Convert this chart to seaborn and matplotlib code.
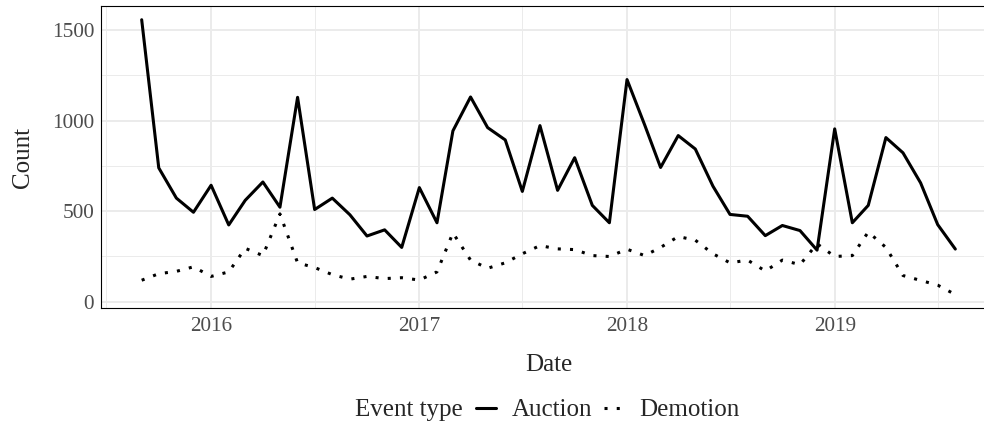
import pandas as pd
import matplotlib.pyplot as plt
import matplotlib.dates as mdates
from matplotlib.ticker import MultipleLocator
from matplotlib.lines import Line2D
import seaborn as sns

# monthly counts, Sep 2015 .. Aug 2019
months = pd.date_range("2015-09-01", "2019-08-01", freq="MS")
auction = [1556, 739, 572, 494,
           643, 424, 560, 661, 522, 1128, 509, 572, 480, 363, 397, 300,
           630, 436, 943, 1130, 961, 893, 609, 972, 615, 795, 532, 436,
           1226, 976, 741, 917, 843, 638, 482, 472, 365, 421, 393, 285,
           954, 436, 532, 906, 822, 656, 426, 291]
demotion = [119, 155, 168, 193,
            140, 165, 295, 255, 485, 215, 189, 150, 125, 140, 128, 133,
            120, 165, 380, 230, 185, 215, 265, 310, 292, 288, 255, 250,
            290, 255, 300, 360, 340, 265, 215, 230, 170, 230, 205, 320,
            250, 255, 385, 300, 145, 118, 92, 40]
event_types = ["Auction", "Demotion"]

df = pd.concat([
    pd.DataFrame({"Date": months, "Count": auction, "Event type": "Auction"}),
    pd.DataFrame({"Date": months, "Count": demotion, "Event type": "Demotion"}),
])

sns.set_style("white")
plt.rcParams["font.family"] = ["Liberation Serif", "DejaVu Serif"]

fig = plt.figure(figsize=(9.84, 4.25), dpi=100)
ax = fig.add_axes([101 / 984, 1 - 308.3 / 425, 895 / 984, 302.3 / 425])

sns.lineplot(data=df, x="Date", y="Count", style="Event type",
             dashes={"Auction": "", "Demotion": (1, 3)},
             color="black", linewidth=2.2, legend=False, ax=ax)

# ggplot-like 5% expansion
pad_x = (months[-1] - months[0]) * 0.05
ax.set_xlim(months[0] - pad_x, months[-1] + pad_x)
ymin, ymax = min(demotion + auction), max(demotion + auction)
pad_y = (ymax - ymin) * 0.05
ax.set_ylim(ymin - pad_y, ymax + pad_y)

ax.xaxis.set_major_locator(mdates.YearLocator())
ax.xaxis.set_major_formatter(mdates.DateFormatter("%Y"))
ax.xaxis.set_minor_locator(mdates.MonthLocator(bymonth=7))
ax.yaxis.set_major_locator(MultipleLocator(500))
ax.yaxis.set_minor_locator(MultipleLocator(250))

ax.set_axisbelow(True)
ax.grid(which="major", color="#EBEBEB", linewidth=1.4)
ax.grid(which="minor", color="#EBEBEB", linewidth=0.7)

for side in ["left", "bottom", "top", "right"]:
    ax.spines[side].set_color("black")
    ax.spines[side].set_linewidth(0.8)

ax.tick_params(which="major", length=3, width=0.8, color="#333333",
               labelsize=15.3, labelcolor="#4D4D4D", pad=2)
ax.tick_params(axis="x", which="major", pad=3.5)
ax.tick_params(which="minor", length=0)

ax.set_xlabel("Date", fontsize=18, labelpad=13)
ax.set_ylabel("Count", fontsize=18, labelpad=13)

handles = [Line2D([], [], color="black", linewidth=2.2),
           Line2D([], [], color="black", linewidth=2.2, linestyle=(0, (1, 3)))]
fig.legend(handles, event_types, loc="center", bbox_to_anchor=(608 / 984, 0.035),
           ncol=2, frameon=False, fontsize=18, handlelength=0.8,
           handletextpad=0.6, columnspacing=0.5)
fig.text(355 / 984, 0.035, "Event type", fontsize=18, va="center", ha="left")

fig.savefig("out.png", dpi=100)
